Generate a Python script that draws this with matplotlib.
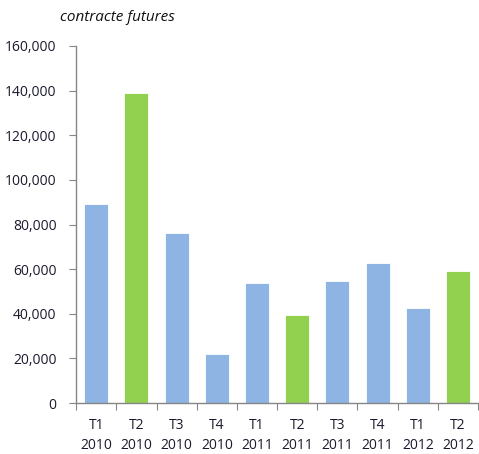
import numpy as np
import matplotlib.pyplot as plt
from matplotlib.ticker import FuncFormatter

# data
quarters = ['T1', 'T2', 'T3', 'T4', 'T1', 'T2', 'T3', 'T4', 'T1', 'T2']
years = ['2010', '2010', '2010', '2010', '2011', '2011', '2011', '2011', '2012', '2012']
values = [89300, 139000, 76000, 22000, 53800, 39500, 54800, 62800, 42600, 59100]
highlight = [False, True, False, False, False, True, False, False, False, True]

blue = '#8DB4E2'
green = '#92D050'
axis_col = '#868686'
text_col = '#1a1a2e'

plt.rcParams['font.family'] = ['Open Sans', 'DejaVu Sans']

fig = plt.figure(figsize=(4.79, 4.54), dpi=100)
ax = fig.add_axes([0.159, 0.112, 0.839, 0.787])

x = np.arange(len(values))
cols = [green if h else blue for h in highlight]
ax.bar(x, values, width=0.6, color=cols, edgecolor='white', linewidth=0.6, zorder=2)

ax.set_xlim(-0.5, len(values) - 0.5)
ax.set_ylim(0, 160000)
ax.set_yticks(np.arange(0, 160001, 20000))
ax.yaxis.set_major_formatter(FuncFormatter(lambda v, p: f'{int(v):,}'))

ax.set_xticks(np.arange(-0.5, len(values), 1.0))
ax.set_xticklabels([])
ax.set_xticks(x, minor=True)
ax.set_xticklabels([f'{q}\n{y}' for q, y in zip(quarters, years)], minor=True,
                   linespacing=1.4)
ax.tick_params(axis='x', which='minor', length=0, pad=11, labelsize=10, labelcolor=text_col)
ax.tick_params(axis='x', which='major', length=5, color=axis_col, direction='out')
ax.tick_params(axis='y', length=5, color=axis_col, direction='out', labelsize=10,
               labelcolor=text_col, pad=9)

for s in ['top', 'right']:
    ax.spines[s].set_visible(False)
for s in ['left', 'bottom']:
    ax.spines[s].set_color(axis_col)
    ax.spines[s].set_linewidth(1.0)

fig.text(0.246, 0.962, 'contracte futures', style='italic', fontsize=11,
         ha='center', va='center', color='#111111')

fig.savefig('out.png', dpi=100)
